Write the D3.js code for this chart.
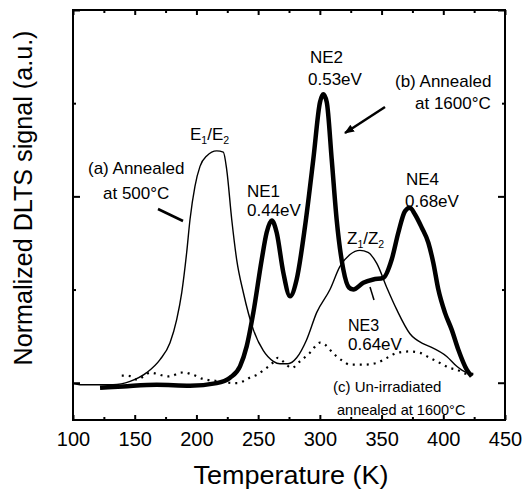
<!DOCTYPE html>
<html>
<head>
<meta charset="utf-8">
<script src="https://cdn.jsdelivr.net/npm/d3@7"></script>
<style>
  body { margin: 0; background: #fff; }
  text { font-family: "Liberation Sans", Arial, sans-serif; fill: #000; }
</style>
</head>
<body>
<svg id="chart" width="523" height="490"></svg>
<script>
// (a) annealed at 500C, thin line
let tempA = [100, 105.7, 132.4, 146.2, 159.7, 170.5, 178.6, 184.0, 188.1, 192.1, 194.8, 198.8, 202.9, 208.3,
             216.4, 221.8, 224.5, 228.6, 232.6, 238.0, 246.1, 254.2, 262.3, 267.7, 274.2, 281.2, 289.3, 297.4,
             308.2, 316.3, 324.4, 332.5, 339.0, 346.1, 354.2, 362.3, 373.0, 383.6, 389.2, 402.8, 410.9, 418.9, 424.1]
let signalA = [-0.005, -0.011, -0.011, 0.007, 0.054, 0.124, 0.215, 0.339, 0.484, 0.699, 0.876, 1.054, 1.161, 1.217,
               1.244, 1.237, 1.145, 0.876, 0.661, 0.484, 0.285, 0.172, 0.115, 0.102, 0.102, 0.134, 0.231, 0.376,
               0.500, 0.624, 0.688, 0.710, 0.699, 0.640, 0.511, 0.392, 0.263, 0.210, 0.194, 0.141, 0.088, 0.054, 0.048]

// (b) annealed at 1600C, thick line
let tempB = [121.9, 140.5, 167.8, 194.8, 216.4, 227.2, 235.3, 240.7, 246.1, 252.9, 256.9, 261.0, 265.0, 270.4,
             275.8, 281.2, 288.0, 294.7, 300.1, 302.8, 305.6, 309.6, 313.6, 319.0, 323.6, 327.1, 335.2, 343.3,
             351.4, 358.2, 363.6, 369.0, 373.0, 377.1, 382.5, 387.9, 391.9, 396.0, 401.4, 406.8, 412.2, 419.0, 423.0]
let signalB = [-0.027, -0.020, -0.011, -0.016, -0.002, 0.027, 0.088, 0.195, 0.376, 0.661, 0.806, 0.871, 0.806, 0.591,
               0.464, 0.554, 0.840, 1.199, 1.505, 1.548, 1.505, 1.199, 0.876, 0.608, 0.511, 0.500, 0.536, 0.554,
               0.563, 0.661, 0.806, 0.921, 0.939, 0.903, 0.833, 0.751, 0.644, 0.500, 0.375, 0.285, 0.177, 0.070, 0.034]

// (c) un-irradiated annealed at 1600C, dotted
let tempC = [139.5, 144.6, 151.9, 156.7, 162.4, 168.1, 172.9, 177.0, 181.0, 186.7, 190.7, 194.8, 200.5, 204.5,
             208.6, 213.4, 220.0, 226.0, 232.9, 237.7, 243.4, 249.1, 253.1, 257.2, 262.0, 266.1, 270.1, 277.2,
             283.9, 292.0, 300.1, 304.2, 308.2, 313.6, 319.0, 324.4, 335.2, 346.1, 354.2, 362.3, 373.0, 381.1,
             389.2, 397.3, 405.4, 410.9, 419.0, 427.1]
let signalC = [0.038, 0.038, 0.016, 0.032, 0.054, 0.048, 0.038, 0.034, 0.038, 0.054, 0.055, 0.048, 0.034, 0.022,
               0.016, 0.012, 0.005, 0.000, -0.002, 0.007, 0.028, 0.043, 0.061, 0.081, 0.108, 0.134, 0.115, 0.079,
               0.115, 0.161, 0.215, 0.204, 0.177, 0.141, 0.115, 0.097, 0.097, 0.106, 0.133, 0.160, 0.168, 0.160,
               0.133, 0.106, 0.079, 0.070, 0.048, 0.048]

let xMajor = [100, 150, 200, 250, 300, 350, 400, 450]
let xMinor = [125, 175, 225, 275, 325, 375, 425]
let yMajor = [0, 1, 2]
let yMinor = [0.5, 1.5]

let width = 523,
    height = 490,
    margins = {top: 10, bottom: 70, left: 73, right: 18}

function make_scales() {
  return {
    x: d3.scaleLinear()
         .domain([100, 450])
         .range([margins.left, width - margins.right]),
    y: d3.scaleLinear()
         .domain([-0.2, 2.0])
         .range([height - margins.bottom, margins.top])
  }
}

function draw_lines(svg, scales) {
  let line = d3.line()
    .x(d => scales.x(d[0]))
    .y(d => scales.y(d[1]))
    .curve(d3.curveMonotoneX)

  let series = [
    {t: tempC, s: signalC, w: 2.2, dash: "2,5"},
    {t: tempA, s: signalA, w: 1.4, dash: null},
    {t: tempB, s: signalB, w: 4.5, dash: null}
  ]

  svg.append("g").attr("id", "lines")
    .selectAll("path")
    .data(series).enter()
    .append("path")
    .attr("d", d => line(d.t.map((t, i) => [t, d.s[i]])))
    .attr("fill", "none")
    .attr("stroke", "#000")
    .attr("stroke-width", d => d.w)
    .attr("stroke-dasharray", d => d.dash)
    .attr("stroke-linejoin", "round")
}

function add_axes(svg, scales) {
  let x0 = margins.left, x1 = width - margins.right,
      y0 = margins.top, y1 = height - margins.bottom
  let g = svg.append("g").attr("id", "axes")

  // bottom: labelled major ticks, inward
  g.append("g")
    .attr("transform", `translate(0,${y1})`)
    .call(d3.axisBottom(scales.x).tickValues(xMajor).tickFormat(d3.format("d"))
      .tickSizeInner(-5).tickSizeOuter(0).tickPadding(12))
    .call(a => a.select(".domain").remove())
    .call(a => a.selectAll("text").attr("font-size", 20).attr("font-family", "Liberation Sans, Arial"))
  g.append("g")
    .attr("transform", `translate(0,${y1})`)
    .call(d3.axisBottom(scales.x).tickValues(xMinor).tickFormat("").tickSizeInner(-3).tickSizeOuter(0))
    .call(a => a.select(".domain").remove())

  // top: mirrored ticks
  g.append("g")
    .attr("transform", `translate(0,${y0})`)
    .call(d3.axisTop(scales.x).tickValues(xMajor).tickFormat("").tickSizeInner(-5).tickSizeOuter(0))
    .call(a => a.select(".domain").remove())
  g.append("g")
    .attr("transform", `translate(0,${y0})`)
    .call(d3.axisTop(scales.x).tickValues(xMinor).tickFormat("").tickSizeInner(-3).tickSizeOuter(0))
    .call(a => a.select(".domain").remove())

  // left and right: no labels
  g.append("g")
    .attr("transform", `translate(${x0},0)`)
    .call(d3.axisLeft(scales.y).tickValues(yMajor).tickFormat("").tickSizeInner(-7).tickSizeOuter(0))
    .call(a => a.select(".domain").remove())
  g.append("g")
    .attr("transform", `translate(${x0},0)`)
    .call(d3.axisLeft(scales.y).tickValues(yMinor).tickFormat("").tickSizeInner(-3).tickSizeOuter(0))
    .call(a => a.select(".domain").remove())
  g.append("g")
    .attr("transform", `translate(${x1},0)`)
    .call(d3.axisRight(scales.y).tickValues(yMajor).tickFormat("").tickSizeInner(-7).tickSizeOuter(0))
    .call(a => a.select(".domain").remove())
  g.append("g")
    .attr("transform", `translate(${x1},0)`)
    .call(d3.axisRight(scales.y).tickValues(yMinor).tickFormat("").tickSizeInner(-3).tickSizeOuter(0))
    .call(a => a.select(".domain").remove())

  g.selectAll(".tick line").attr("stroke", "#000").attr("stroke-width", 2)

  g.append("rect")
    .attr("x", x0).attr("y", y0)
    .attr("width", x1 - x0).attr("height", y1 - y0)
    .attr("fill", "none").attr("stroke", "#000").attr("stroke-width", 2)

  svg.append("text")
    .attr("x", (x0 + x1) / 2 + 2).attr("y", 484)
    .attr("text-anchor", "middle")
    .attr("font-size", 26)
    .attr("textLength", 195)
    .attr("lengthAdjust", "spacingAndGlyphs")
    .text("Temperature (K)")

  svg.append("text")
    .attr("transform", `translate(32,198) rotate(-90)`)
    .attr("text-anchor", "middle")
    .attr("font-size", 25)
    .attr("textLength", 335)
    .attr("lengthAdjust", "spacingAndGlyphs")
    .text("Normalized DLTS signal (a.u.)")
}

function label(svg, x, y, size, parts) {
  let t = svg.append("text").attr("x", x).attr("y", y).attr("font-size", size)
  parts.forEach(p => {
    let s = t.append("tspan").text(p.text)
    if (p.sub) s.attr("font-size", size * 0.62).attr("dy", 4)
    if (p.back) s.attr("dy", -4)
  })
}

function add_notes(svg) {
  label(svg, 190, 140, 17, [{text: "E"}, {text: "1", sub: true}, {text: "/E", back: true}, {text: "2", sub: true}])
  label(svg, 88, 174, 17, [{text: "(a) Annealed"}])
  label(svg, 103, 199, 17, [{text: "at 500°C"}])
  label(svg, 247, 197, 17, [{text: "NE1"}])
  label(svg, 247, 216, 17, [{text: "0.44eV"}])
  label(svg, 310, 63, 17, [{text: "NE2"}])
  label(svg, 308, 85, 17, [{text: "0.53eV"}])
  label(svg, 395, 87, 17, [{text: "(b) Annealed"}])
  label(svg, 415, 109, 17, [{text: "at 1600°C"}])
  label(svg, 406, 185, 17, [{text: "NE4"}])
  label(svg, 405, 207, 17, [{text: "0.68eV"}])
  label(svg, 347, 244, 17, [{text: "Z"}, {text: "1", sub: true}, {text: "/Z", back: true}, {text: "2", sub: true}])
  label(svg, 348, 331, 16, [{text: "NE3"}])
  label(svg, 348, 350, 17, [{text: "0.64eV"}])
  label(svg, 333, 392, 15, [{text: "(c) Un-irradiated"}])
  label(svg, 337, 415, 14.5, [{text: "annealed at 1600°C"}])

  svg.append("defs").append("marker")
    .attr("id", "head").attr("viewBox", "0 0 10 10")
    .attr("refX", 9).attr("refY", 5)
    .attr("markerWidth", 4).attr("markerHeight", 4)
    .attr("orient", "auto")
    .append("path").attr("d", "M0,1 L10,5 L0,9 Z").attr("fill", "#000")

  let arrows = [
    {x1: 158, y1: 209, x2: 183, y2: 221, w: 2.5, head: false},
    {x1: 385, y1: 107, x2: 345, y2: 133, w: 2.5, head: true},
    {x1: 370, y1: 287, x2: 374, y2: 300, w: 1.5, head: false}
  ]
  svg.append("g").selectAll("line")
    .data(arrows).enter()
    .append("line")
    .attr("x1", d => d.x1).attr("y1", d => d.y1)
    .attr("x2", d => d.x2).attr("y2", d => d.y2)
    .attr("stroke", "#000")
    .attr("stroke-width", d => d.w)
    .attr("marker-end", d => d.head ? "url(#head)" : null)
}

function visualize() {
  let svg = d3.select("#chart")
  let scales = make_scales()
  draw_lines(svg, scales)
  add_axes(svg, scales)
  add_notes(svg)
}

visualize()
</script>
</body>
</html>
